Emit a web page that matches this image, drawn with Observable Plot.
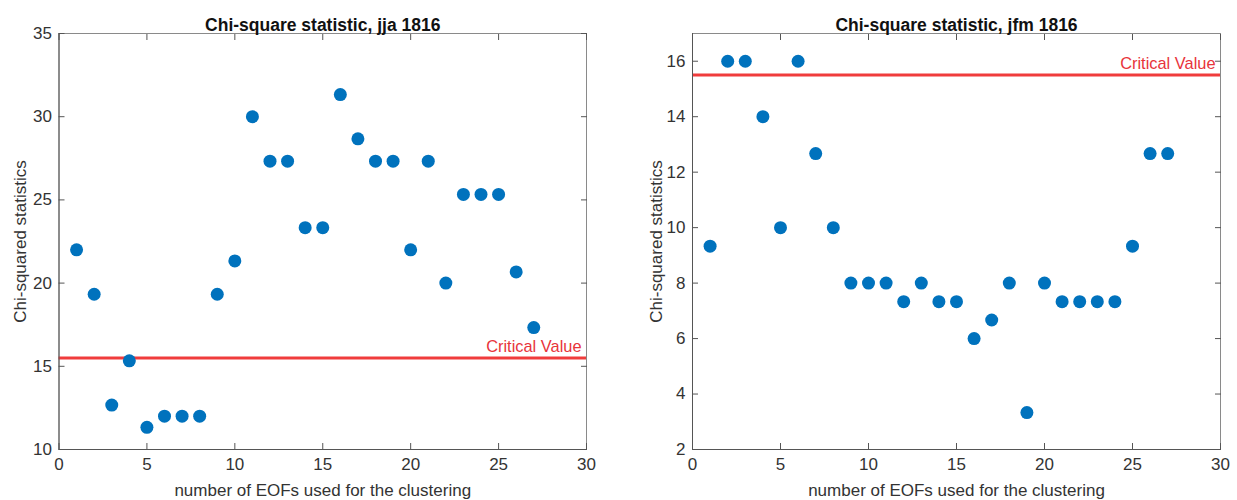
<!DOCTYPE html>
<html><head><meta charset="utf-8">
<script src="https://cdn.jsdelivr.net/npm/d3@7"></script>
<script src="https://cdn.jsdelivr.net/npm/@observablehq/plot@0.6"></script>
<style>
body{margin:0;background:#fff;font-family:"Liberation Sans",Arial,sans-serif;}
#wrap{display:flex;width:1237px;height:500px;}
</style></head><body><div id="wrap"></div>
<script>
const eofs = [1,2,3,4,5,6,7,8,9,10,11,12,13,14,15,16,17,18,19,20,21,22,23,24,25,26,27];
const jja = [22,19.33,12.67,15.33,11.33,12,12,12,19.33,21.33,30,27.33,27.33,23.33,23.33,31.33,28.67,27.33,27.33,22,27.33,20,25.33,25.33,25.33,20.67,17.33];
const jfm = [9.33,16,16,14,10,16,12.67,10,8,8,8,7.33,8,7.33,7.33,6,6.67,8,3.33,8,7.33,7.33,7.33,7.33,9.33,12.67,12.67];
const criticalValue = 15.5;
const xTicks = [0,5,10,15,20,25,30];
const jjaTicks = [10,15,20,25,30,35];
const jfmTicks = [2,4,6,8,10,12,14,16];
const titles = ["Chi-square statistic, jja 1816", "Chi-square statistic, jfm 1816"];
const xLabel = "number of EOFs used for the clustering";
const yLabel = "Chi-squared statistics";
const critLabel = "Critical Value";

function panel(values, yDomain, yTicks, title, m) {
  const data = eofs.map((e, i) => ({x: e, y: values[i]}));
  const tickColor = "#555";
  return Plot.plot({
    width: m.width, height: 500,
    marginLeft: m.left, marginRight: m.right, marginTop: 33, marginBottom: 51,
    style: {fontFamily: "'Liberation Sans', Arial, sans-serif", fontSize: "17px", color: "#333", background: "#fff"},
    x: {domain: [0, 30]},
    y: {domain: yDomain},
    marks: [
      Plot.frame({stroke: "#8a8a8a"}),
      Plot.ruleY([criticalValue], {stroke: "#F03C3C", strokeWidth: 3}),
      Plot.text([critLabel], {frameAnchor: "right", y: () => criticalValue, dx: -5, dy: -6, textAnchor: "end", lineAnchor: "bottom", fill: "#E8343B", fontSize: 16.4}),
      Plot.dot(data, {x: "x", y: "y", r: 6.5, fill: "#0072BD", stroke: "none"}),
      Plot.axisX(xTicks, {anchor: "bottom", tickSize: 0, tickPadding: 8, fill: "#333", fontSize: 17, label: xLabel, labelAnchor: "center", labelArrow: "none", labelOffset: 46}),
      Plot.axisX(xTicks, {anchor: "bottom", tickSize: -6, tickFormat: () => "", stroke: tickColor, label: null}),
      Plot.axisX(xTicks, {anchor: "top", tickSize: -6, tickFormat: () => "", stroke: tickColor, label: null}),
      Plot.axisY(yTicks, {anchor: "left", tickSize: 0, tickPadding: 7, fill: "#333", fontSize: 17, label: yLabel, labelAnchor: "center", labelArrow: "none", labelOffset: m.labelOffset}),
      Plot.axisY(yTicks, {anchor: "left", tickSize: -6, tickFormat: () => "", stroke: tickColor, label: null}),
      Plot.axisY(yTicks, {anchor: "right", tickSize: -6, tickFormat: () => "", stroke: tickColor, label: null}),
      Plot.ruleX([0], {stroke: "#555"}),
      Plot.ruleY([yDomain[0]], {stroke: "#555"}),
      Plot.text([title], {frameAnchor: "top", dy: -15, fontWeight: "bold", fontSize: 17.5, fill: "#111"})
    ]
  });
}
const wrap = document.getElementById("wrap");
wrap.appendChild(panel(jja, [10, 35], jjaTicks, titles[0], {width: 618, left: 58.5, right: 32, labelOffset: 45}));
wrap.appendChild(panel(jfm, [2, 17], jfmTicks, titles[1], {width: 619, left: 74, right: 17, labelOffset: 43}));
</script></body></html>
